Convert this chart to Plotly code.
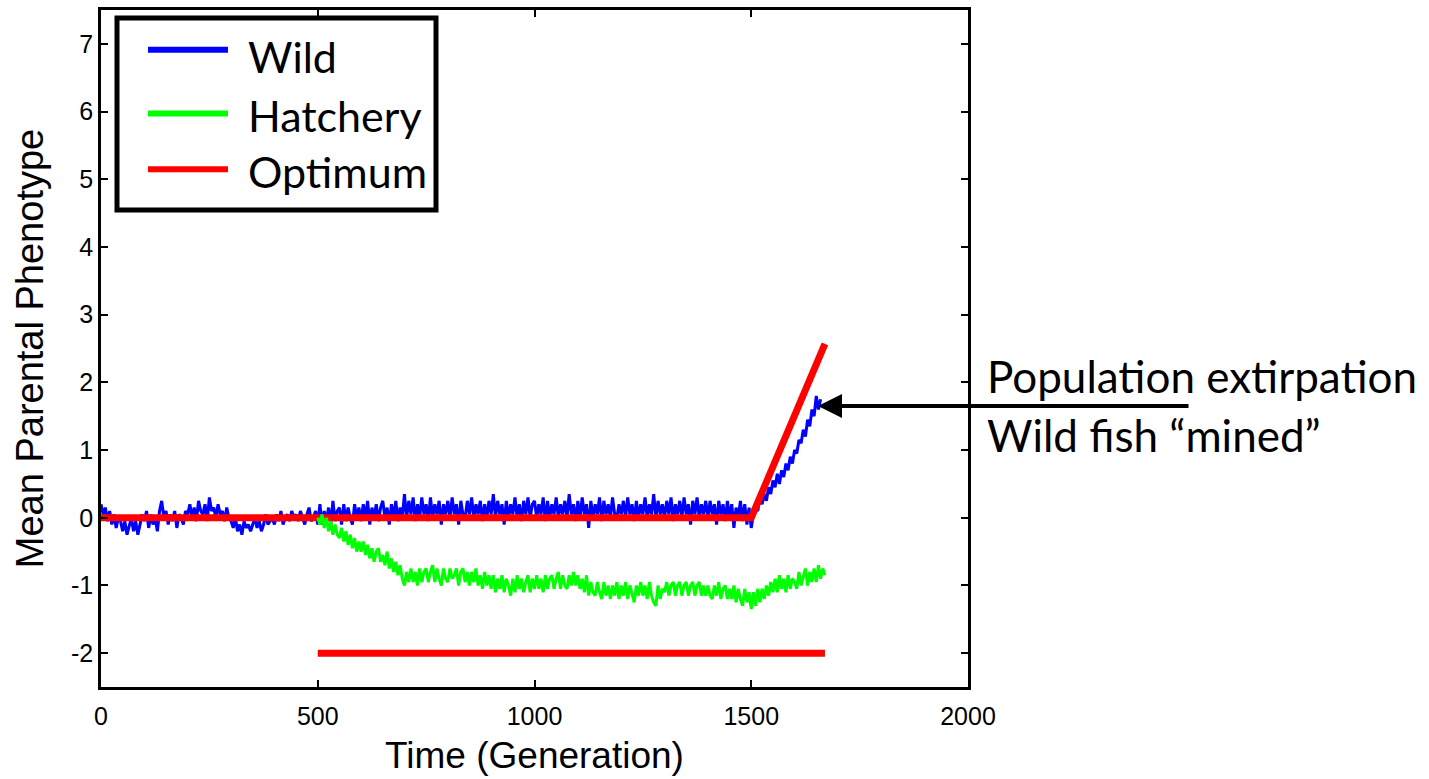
import plotly.graph_objects as go

# ---------------- data ----------------
wild_gen = list(range(0, 1661, 5))
wild_val = [
    0.2, 0.05, 0.15, -0.05, 0.1, -0.1, 0.05, -0.15, 0.0, -0.05,
    -0.2, -0.05, -0.25, -0.1, 0.0, -0.2, -0.05, -0.25, -0.1, 0.05,
    -0.05, 0.1, -0.15, 0.05, -0.1, 0.0, -0.2, 0.1, 0.25, 0.0,
    0.1, -0.1, 0.05, -0.05, 0.1, -0.15, 0.05, 0.0, -0.1, 0.1,
    0.05, 0.2, 0.0, 0.15, -0.05, 0.25, 0.1, 0.05, 0.2, -0.05,
    0.3, 0.1, 0.15, 0.0, 0.2, 0.05, 0.1, -0.05, 0.15, 0.0,
    -0.05, -0.15, 0.0, -0.2, -0.1, -0.25, -0.05, -0.15, -0.1, -0.2,
    -0.1, 0.0, -0.15, -0.05, -0.2, -0.1, 0.05, -0.1, -0.05, 0.0,
    -0.1, 0.05, -0.05, 0.1, -0.1, 0.0, 0.05, -0.05, 0.1, 0.0,
    0.05, -0.05, 0.1, 0.0, -0.1, 0.05, 0.15, -0.05, 0.0, 0.1,
    -0.1, 0.2, -0.1, 0.1, -0.05, 0.15, -0.1, 0.25, -0.05, 0.1,
    0.15, -0.1, 0.2, -0.05, 0.15, 0.0, -0.1, 0.2, 0.0, 0.15,
    -0.05, 0.2, 0.0, 0.25, -0.1, 0.15, 0.0, 0.2, -0.05, 0.15,
    0.25, 0.0, 0.15, -0.1, 0.2, 0.0, 0.25, -0.05, 0.15, 0.0,
    0.35, 0.0, 0.25, 0.05, 0.3, -0.05, 0.2, 0.0, 0.3, 0.05,
    0.2, -0.05, 0.3, 0.0, 0.2, 0.05, 0.25, -0.1, 0.2, 0.05,
    0.25, 0.0, 0.3, 0.05, 0.2, -0.1, 0.25, 0.05, 0.0, 0.25,
    0.05, 0.3, 0.0, 0.2, 0.05, 0.25, -0.05, 0.2, 0.0, 0.25,
    0.05, 0.35, 0.0, 0.25, 0.05, 0.2, -0.1, 0.25, 0.0, 0.2,
    0.05, 0.3, 0.0, 0.2, -0.05, 0.25, 0.05, 0.3, 0.0, 0.2,
    0.25, 0.0, 0.2, 0.05, 0.3, -0.05, 0.25, 0.0, 0.2, 0.05,
    0.3, 0.0, 0.2, 0.05, 0.25, 0.0, 0.35, 0.05, 0.2, -0.05,
    0.25, 0.0, 0.3, 0.05, 0.2, -0.15, 0.25, 0.0, 0.2, 0.05,
    0.3, -0.05, 0.25, 0.05, 0.2, 0.0, 0.3, 0.05, 0.0, 0.2,
    0.05, 0.25, 0.0, 0.3, 0.05, 0.2, -0.05, 0.25, 0.0, 0.2,
    0.05, 0.3, 0.0, 0.2, 0.05, 0.35, 0.0, 0.25, 0.05, 0.2,
    0.0, 0.25, 0.05, 0.3, -0.05, 0.2, 0.05, 0.25, 0.0, 0.3,
    0.05, 0.2, -0.1, 0.25, 0.05, 0.3, 0.0, 0.2, 0.05, 0.25,
    0.0, 0.25, 0.05, 0.2, -0.1, 0.25, 0.05, 0.2, -0.05, 0.25,
    0.0, 0.2, -0.15, 0.15, 0.0, 0.25, -0.05, 0.2, -0.1, 0.15,
    -0.15, 0.05, 0.15, 0.1, 0.3, 0.2, 0.35, 0.25, 0.45, 0.35,
    0.55, 0.45, 0.65, 0.5, 0.7, 0.6, 0.8, 0.7, 0.9, 0.8,
    1.0, 0.95, 1.15, 1.1, 1.3, 1.2, 1.45, 1.35, 1.6, 1.5,
    1.8, 1.6, 1.75,
]

hatch_gen = list(range(500, 1671, 5))
hatch_val = [
    0.0, -0.1, 0.05, -0.15, 0.0, -0.2, -0.05, -0.25, -0.1, -0.25,
    -0.3, -0.15, -0.35, -0.2, -0.4, -0.25, -0.45, -0.3, -0.5, -0.35,
    -0.5, -0.35, -0.55, -0.4, -0.6, -0.45, -0.65, -0.5, -0.45, -0.65,
    -0.55, -0.7, -0.5, -0.75, -0.6, -0.8, -0.65, -0.85, -0.7, -0.9,
    -1.0, -0.8, -0.95, -0.75, -0.95, -0.8, -1.0, -0.75, -0.95, -0.8,
    -0.75, -0.95, -0.8, -0.7, -0.95, -0.75, -0.9, -1.0, -0.75, -0.9,
    -0.95, -0.75, -0.9, -0.85, -0.75, -1.0, -0.8, -0.75, -0.95, -0.8,
    -1.0, -0.8, -0.95, -0.75, -1.0, -0.85, -1.05, -0.8, -1.0, -0.85,
    -1.05, -0.85, -1.1, -0.9, -1.05, -0.85, -1.1, -0.9, -1.0, -1.15,
    -0.9, -1.1, -0.85, -1.05, -0.9, -1.1, -0.95, -0.85, -1.1, -0.9,
    -1.05, -0.85, -1.05, -0.9, -1.1, -0.85, -1.05, -0.9, -0.85, -1.05,
    -0.9, -0.8, -1.05, -0.85, -1.0, -1.05, -0.85, -1.0, -0.8, -1.0,
    -0.85, -1.05, -0.9, -1.1, -0.85, -1.15, -0.95, -1.1, -1.15, -0.95,
    -1.1, -1.2, -0.95, -1.15, -1.0, -1.2, -1.0, -1.15, -0.95, -1.2,
    -1.0, -1.15, -0.95, -1.2, -1.0, -1.15, -1.25, -1.0, -1.15, -0.95,
    -1.15, -1.0, -1.2, -0.95, -1.15, -1.25, -1.3, -1.0, -1.2, -1.05,
    -1.1, -0.95, -1.15, -1.0, -0.95, -1.15, -1.0, -0.95, -1.15, -1.0,
    -0.95, -1.15, -1.0, -0.95, -1.15, -1.0, -0.95, -1.15, -1.0, -1.15,
    -1.0, -1.15, -1.2, -1.0, -1.15, -0.95, -1.2, -1.05, -1.0, -1.2,
    -1.05, -1.2, -1.0, -1.25, -1.05, -1.2, -1.3, -1.05, -1.25, -1.1,
    -1.35, -1.1, -1.3, -1.05, -1.25, -1.05, -1.2, -1.0, -1.15, -0.95,
    -1.1, -0.9, -1.1, -0.85, -1.05, -0.9, -1.1, -0.85, -1.05, -0.9,
    -0.95, -1.05, -0.8, -1.0, -0.85, -0.75, -1.0, -0.8, -0.95, -0.75,
    -0.95, -0.7, -0.9, -0.75, -0.85,
]

opt_gen = [0, 1500, 1670]
opt_val = [0, 0, 2.57]

hopt_gen = [500, 1670]
hopt_val = [-2, -2]

legend_names = ["Wild", "Hatchery", "Optimum"]
legend_colors = ["#0000ff", "#00ff00", "#ff0000"]

x_ticks = [0, 500, 1000, 1500, 2000]
y_ticks = [-2, -1, 0, 1, 2, 3, 4, 5, 6, 7]
y_ticktext = ["-2", "-1", "0", "1", "2", "3", "4", "5", "6", "7"]

# ---------------- figure ----------------
fig = go.Figure()
fig.add_trace(go.Scatter(x=wild_gen, y=wild_val, mode="lines", name="Wild",
                         line=dict(color="#0000ff", width=3), showlegend=False))
fig.add_trace(go.Scatter(x=opt_gen, y=opt_val, mode="lines", name="Optimum",
                         line=dict(color="#ff0000", width=7), showlegend=False))
fig.add_trace(go.Scatter(x=hatch_gen, y=hatch_val, mode="lines", name="Hatchery",
                         line=dict(color="#00ff00", width=3), showlegend=False))
fig.add_trace(go.Scatter(x=hopt_gen, y=hopt_val, mode="lines", name="Hatchery optimum",
                         line=dict(color="#ff0000", width=7), showlegend=False))

W, H = 1429, 779
L, R, T, B = 101, 461, 7, 92
pw, ph = W - L - R, H - T - B


def px(xp):
    return (xp - L) / pw


def py(yp):
    return (H - B - yp) / ph


shapes = []
annotations = []
# manual legend box
shapes.append(dict(type="rect", xref="paper", yref="paper",
                   x0=px(117), x1=px(436), y0=py(15), y1=py(208),
                   line=dict(color="black", width=5), fillcolor="white", layer="above"))
leg_y = [47, 111, 167]
leg_text_y = [54, 113, 169]
for name, col, yy, ty in zip(legend_names, legend_colors, leg_y, leg_text_y):
    shapes.append(dict(type="line", xref="paper", yref="paper",
                       x0=px(148), x1=px(228), y0=py(yy), y1=py(yy),
                       line=dict(color=col, width=6), layer="above"))
    annotations.append(dict(xref="paper", yref="paper", x=px(246), y=py(ty),
                            text=name, showarrow=False, xanchor="left", yanchor="middle",
                            font=dict(family="Lato, Liberation Sans", size=43, color="black")))

# arrow annotation
annotations.append(dict(x=1654, y=1.65, xref="x", yref="y", ax=372, ay=0,
                        axref="pixel", ayref="pixel", text="", showarrow=True,
                        arrowhead=2, arrowsize=1.2, arrowwidth=4, arrowcolor="black"))
annotations.append(dict(xref="paper", yref="paper", x=px(985), y=py(375),
                        text="Population extirpation", showarrow=False,
                        xanchor="left", yanchor="middle",
                        font=dict(family="Lato, Liberation Sans", size=44, color="black")))
annotations.append(dict(xref="paper", yref="paper", x=px(985), y=py(434),
                        text="Wild fish \u201cmined\u201d", showarrow=False,
                        xanchor="left", yanchor="middle",
                        font=dict(family="Lato, Liberation Sans", size=44, color="black")))

fig.update_layout(
    width=W, height=H,
    margin=dict(l=L, r=R, t=T, b=B),
    paper_bgcolor="white", plot_bgcolor="white",
    font=dict(family="Liberation Sans, Arial", size=25, color="black"),
    shapes=shapes, annotations=annotations,
    showlegend=False,
)
fig.update_xaxes(range=[0, 2000], tickvals=x_ticks, ticks="inside", ticklen=7, tickwidth=1.5,
                 tickcolor="black", showline=True, linewidth=2.5, linecolor="black",
                 mirror="ticks", showgrid=False, zeroline=False, ticklabelstandoff=5,
                 title=dict(text="Time (Generation)", font=dict(size=37), standoff=14),
                 tickfont=dict(size=25))
fig.update_yaxes(range=[-2.5, 7.5], tickvals=y_ticks, ticktext=y_ticktext,
                 ticks="inside", ticklen=7, tickwidth=1.5,
                 tickcolor="black", showline=True, linewidth=2.5, linecolor="black",
                 mirror="ticks", showgrid=False, zeroline=False,
                 title=dict(text="Mean Parental Phenotype", font=dict(size=38), standoff=16),
                 tickfont=dict(size=25))

fig.write_html("out.html")
